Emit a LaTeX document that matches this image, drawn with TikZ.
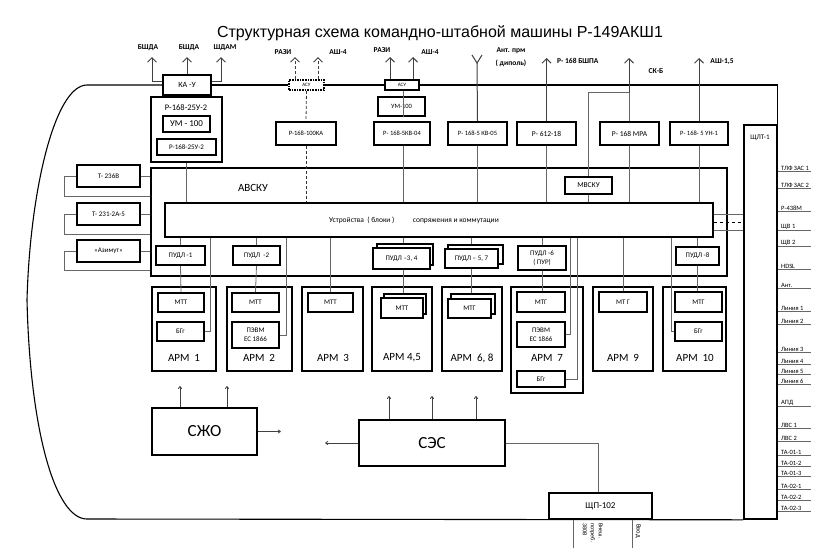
\documentclass[tikz,border=0pt]{standalone}
\usepackage{fontspec}
\setmainfont{Carlito}
\newfontfamily\arialf{Liberation Sans}
\usetikzlibrary{arrows.meta,calc}
\newcommand\fs[2]{\fontsize{#1}{#2}\selectfont}
\newcommand\bx[7][]{\node[box,minimum width={(#5-#3)*1pt},minimum height={(#6-#4)*1pt},#1] (#2) at ({(#3+#5)/2},{(#4+#6)/2}) {#7};}
\begin{document}
\begin{tikzpicture}[x=1pt,y=-1pt,
  box/.style={draw,line width=1.6pt,inner sep=0pt,align=center,font=\fs{7}{8}},
  wbox/.style={box,fill=white},
  conn/.style={draw=black!60,line width=0.8pt},
  frame/.style={draw=black,line width=1.1pt},
  ant/.style={draw=black!75,line width=1pt,-{Straight Barb[length=4.5pt,width=9pt]}},
  sarr/.style={draw=black!75,line width=0.8pt,-{To[length=3pt,width=4pt]}},
  lbl/.style={font=\bfseries\fs{7.5}{8},inner sep=0pt},
  rl/.style={font=\fs{6.5}{7},inner sep=1pt,anchor=west},
  ul/.style={draw=black!60,line width=0.8pt}]
\useasboundingbox (0,0) rectangle (826,558);

% title
\node[font=\arialf\fs{16}{18}] (title) at (440,33) {Структурная схема командно-штабной машины Р-149АКШ1};

% ---------- top equipment ----------
\bx[wbox,font=\fs{8}{9}]{kau}{163}{75}{211}{95}{КА -У}
\bx{r25o}{151}{97}{222}{162}{}
\node[font=\fs{8.5}{9}] (r25t) at (186,108) {Р-168-25У-2};
\bx[font=\fs{9}{10}]{um1}{163}{116}{210}{132}{УМ - 100}
\bx{r25i}{157}{139}{216}{155}{Р-168-25У-2}

\bx[wbox,densely dotted,font=\fs{5}{6}]{asu1}{289}{80}{324}{90}{АСУ}
\bx[font=\fs{6.5}{7}]{r100}{276}{122}{336}{145}{Р-168-100КА}

\bx[wbox,font=\fs{5}{6}]{asu2}{385}{80}{419}{90}{АСУ}
\bx[font=\fs{6.5}{7}]{um2}{378}{97}{425}{116}{УМ-100}
\bx[font=\fs{6.5}{7}]{r04}{374}{122}{430}{145}{Р- 168-5КВ-04}
\bx[font=\fs{6.5}{7}]{r05}{448}{122}{507}{145}{Р- 168-5 КВ-05}
\bx[font=\fs{7.5}{8}]{r612}{517}{122}{576}{145}{Р- 612-18}
\bx[font=\fs{7.5}{8}]{mra}{600}{122}{659}{145}{Р- 168 МРА}
\bx[font=\fs{6.5}{7}]{un1}{670}{122}{728}{145}{Р- 168- 5 УН-1}

\bx[font=\fs{7}{8}]{shlt}{744}{125}{777}{519}{}
\node[font=\fs{7}{8}] (shltt) at (760,138) {ЩЛТ-1};

% frame
\draw[frame] (kau.west) -- (87,85) .. controls (55,85) and (30,190) .. (27,300) .. controls (30,430) and (55,519) .. (87,519) -- (shlt.south west);
\draw[frame] (kau.east) -- (asu1.west);
\draw[frame] (asu1.east) -- (asu2.west);
\draw[frame] (asu2.east) -- (shlt.north east |- asu2.east) -- (shlt.north east);

% antennas
\coordinate (tA) at (152,57);
\coordinate (tC) at (221,57);
\draw[ant] (kau.north) -- (kau.north |- tA);
\draw[ant] (kau.west |- 0,81) -| (tA);
\draw[ant] (kau.east |- 0,81) -| (tC);
\node[lbl] (l1) at (148,48) {БШДА};
\node[lbl] (l2) at (189,48) {БШДА};
\node[lbl] (l3) at (225,48) {ШДАМ};

\draw[ant,densely dashed] (asu1.north -| 295,0) -- (295,57);
\draw[ant,densely dashed] (asu1.north -| 318,0) -- (318,57);
\node[lbl] (l4) at (283,52) {РАЗИ};
\node[lbl] (l5) at (338,52) {АШ-4};

\draw[ant] (asu2.north -| 390,0) -- (390,57);
\draw[ant] (asu2.north -| 413,0) -- (413,57);
\node[lbl] (l6) at (382,50) {РАЗИ};
\node[lbl] (l7) at (430,52) {АШ-4};

\coordinate (dip) at (477,63);
\draw[conn,black!75,line width=1pt] (r05.north) -- (dip);
\draw[black!75,line width=1pt] (472,55) -- (dip) -- (482,55);
\node[lbl] (l8) at (511,51) {Ант. прм};
\node[lbl] (l9) at (511,63) {( диполь)};

\draw[ant] (r612.north) -- (r612.north |- 0,58);
\node[lbl,anchor=west] (l10) at (557,61) {Р- 168  БШПА};
\draw[ant] (mra.north -| 629,0) -- (629,58);
\node[lbl] (l11) at (656,71) {СК-Б};
\draw[ant] (un1.north) -- (un1.north |- 0,58);
\node[lbl] (l12) at (722,62) {АШ-1,5};

% ---------- AVSKU ----------
\bx{avsku}{151}{168}{727}{276}{}
\node[font=\fs{11}{12}] (avskut) at (253,188) {АВСКУ};
\bx[wbox,font=\fs{7.5}{8}]{mvsku}{565}{177}{612}{194}{МВСКУ}
\bx[wbox]{bar}{165}{203}{713}{237}{}
\node[font=\fs{7.5}{8}] (bart) at (414,220) {Устройства\ \ ( блоки )\qquad\ \ сопряжения и коммутации};

\bx[font=\fs{7}{8}]{t236}{77}{165}{140}{187}{Т- 236В}
\bx[font=\fs{7}{8}]{t231}{77}{203}{140}{225}{Т- 231-2А-5}
\bx[font=\fs{7}{8}]{azm}{77}{240}{140}{262}{«Азимут»}

\bx[wbox]{p1}{156}{246}{205}{265}{ПУДЛ -1}
\bx[wbox]{p2}{233}{246}{280}{265}{ПУДЛ\ \ -2}
\bx[wbox]{p34b}{377}{244}{433}{265}{}
\bx[wbox]{p34}{373}{248}{430}{269}{ПУДЛ –3, 4}
\bx[wbox]{p57b}{448}{245}{503}{264}{}
\bx[wbox]{p57}{445}{249}{498}{268}{ПУДЛ – 5, 7}
\bx[wbox,font=\fs{7}{9}]{p6}{518}{246}{566}{270}{ПУДЛ -6\\( ПУР)}
\bx[wbox]{p8}{676}{247}{719}{265}{ПУДЛ -8}

% ---------- ARM ----------
\bx{arm1}{152}{287}{216}{371}{}
\bx{arm2}{227}{287}{292}{371}{}
\bx{arm3}{302}{287}{363}{371}{}
\bx{arm45}{372}{287}{432}{371}{}
\bx{arm68}{442}{287}{502}{371}{}
\bx{arm7}{511}{287}{583}{393}{}
\bx{arm9}{593}{287}{653}{371}{}
\bx{arm10}{663}{287}{726}{371}{}
\node[font=\fs{11}{12}] (a1t) at (184,358) {АРМ\ \ 1};
\node[font=\fs{11}{12}] (a2t) at (259,358) {АРМ\ \ 2};
\node[font=\fs{11}{12}] (a3t) at (333,358) {АРМ\ \ 3};
\node[font=\fs{11}{12}] (a45t) at (402,358) {АРМ 4,5};
\node[font=\fs{11}{12}] (a68t) at (472,358) {АРМ\ \ 6, 8};
\node[font=\fs{11}{12}] (a7t) at (547,358) {АРМ\ \ 7};
\node[font=\fs{11}{12}] (a9t) at (623,358) {АРМ\ \ 9};
\node[font=\fs{11}{12}] (a10t) at (695,358) {АРМ\ \ 10};

\bx[wbox]{mtt1}{158}{293}{204}{312}{МТТ}
\bx[wbox]{bg1}{157}{322}{204}{341}{БГг}
\bx[wbox]{mtt2}{232}{293}{279}{312}{МТТ}
\bx[wbox,font=\fs{7}{9}]{pevm2}{232}{322}{279}{348}{ПЭВМ\\ЕС 1866}
\bx[wbox]{mtt3}{308}{293}{353}{312}{МТТ}
\bx[wbox]{mtt45b}{384}{294}{426}{314}{}
\bx[wbox]{mtt45}{381}{298}{423}{318}{МТТ}
\bx[wbox]{mtg68b}{451}{294}{495}{314}{}
\bx[wbox]{mtg68}{448}{299}{491}{318}{МТГ}
\bx[wbox]{mtg7}{517}{292}{565}{312}{МТГ}
\bx[wbox,font=\fs{7}{9}]{pevm7}{517}{322}{565}{347}{ПЭВМ\\ЕС 1866}
\bx[wbox]{bg7}{517}{371}{565}{387}{БГг}
\bx[wbox]{mtg9}{599}{292}{647}{312}{МТ Г}
\bx[wbox]{mtg10}{675}{292}{722}{312}{МТГ}
\bx[wbox]{bg10}{675}{322}{722}{341}{БГг}

% ---------- connectors ----------
\draw[conn] (r25o.south) -- (bar.north -| r25o.south);
\draw[conn,densely dashed,black!80] (asu1.south) -- (r100.north);
\draw[conn,densely dashed,black!80] (r100.south) -- (bar.north -| r100.south);
\draw[conn] (asu2.south -| 403,0) -- (um2.south -| 403,0);
\draw[conn] (r04.south -| 403,0) -- (bar.north -| 403,0);
\draw[conn] (r05.south) -- (bar.north -| r05.south);
\draw[conn] (r612.south) -- (bar.north -| r612.south);
\draw[conn] (mra.south -| 629,0) -- (bar.north -| 629,0);
\draw[conn] (un1.south) -- (bar.north -| un1.south);
\draw[conn] (mra.north -| 629,0) -- (629,92) -- (588,92) -- (mvsku.north -| 588,0);
\draw[conn] (mvsku.south -| 588,0) -- (bar.north -| 588,0);

\draw[conn] (t236.east) -- (avsku.west |- t236.east);
\draw[conn] (t231.east) -- (avsku.west |- t231.east);
\draw[conn] (azm.east) -- (avsku.west |- azm.east);
\draw[conn] (t236.west) -- (64,0 |- t236.west) -- (64,196) -- (avsku.west |- 0,196);
\draw[conn] (t231.west) -- (64,0 |- t231.west) -- (64,234) -- (avsku.west |- 0,234);
\draw[conn] (azm.west) -- (64,0 |- azm.west) -- (64,270) -- (avsku.west |- 0,270);

\draw[conn] (bar.south -| p1.north) -- (p1.north);
\draw[conn] (p1.south) -- (mtt1.north);
\draw[conn] (bar.south -| 210,0) |- (bg1.east);
\draw[conn] (bar.south -| p2.north) -- (p2.north);
\draw[conn] (p2.south) -- (mtt2.north);
\draw[conn] (bar.south -| 286,0) |- (pevm2.east);
\draw[conn] (bar.south -| mtt3.north) -- (mtt3.north);
\draw[conn] (bar.south -| 403,0) -- (p34b.north -| 403,0);
\draw[conn] (p34.south -| 403,0) -- (mtt45b.north -| 403,0);
\draw[conn] (bar.south -| 471,0) -- (p57b.north -| 471,0);
\draw[conn] (p57.south -| 471,0) -- (mtg68b.north -| 471,0);
\draw[conn] (bar.south -| p6.north) -- (p6.north);
\draw[conn] (p6.south) -- (mtg7.north -| p6.south);
\draw[conn] (bar.south -| 570,0) |- (pevm7.east);
\draw[conn] (bar.south -| 577,0) |- (bg7.east);
\draw[conn] (bar.south -| mtg9.north) -- (mtg9.north);
\draw[conn] (bar.south -| p8.north) -- (p8.north);
\draw[conn] (p8.south) -- (mtg10.north -| p8.south);
\draw[conn] (bar.south -| 671,0) |- (bg10.west);

\draw[conn] (bar.east |- 0,214) -- (shlt.west |- 0,214);
\draw[conn,dashed,black] (bar.east |- 0,222) -- (shlt.west |- 0,222);
\draw[conn] (bar.east |- 0,230) -- (shlt.west |- 0,230);

% ---------- power ----------
\bx[font=\fs{17}{18}]{szho}{152}{408}{257}{455}{СЖО}
\bx[font=\fs{17}{18}]{ses}{359}{420}{505}{466}{СЭС}
\bx[wbox,font=\fs{9}{10}]{shp}{549}{493}{652}{519}{ЩП-102}
\draw[sarr] (szho.north -| 180,0) -- (180,386);
\draw[sarr] (szho.north -| 227,0) -- (227,386);
\draw[sarr] (szho.east) -- ++(23,0);
\draw[sarr] (ses.west) -- ++(-33,0);
\draw[sarr] (ses.north -| 389,0) -- (389,396);
\draw[sarr] (ses.north -| 432,0) -- (432,396);
\draw[sarr] (ses.north -| 476,0) -- (476,396);
\draw[conn] (ses.east) -| (shp.north -| 598,0);
\draw[conn] (shp.south -| 573,0) -- (573,548);
\draw[conn] (shp.south -| 632,0) -- (632,548);
\node[rotate=-90,anchor=north west,align=left,inner sep=0pt,font=\fs{6}{8}] (vn) at (603,523) {Внеш.\\потреб.\\380В};
\node[rotate=-90,anchor=north west,inner sep=0pt,font=\fs{6.5}{8}] (vv) at (641,524) {Ввод};

% ---------- right labels ----------
\foreach \t/\y [count=\i] in {ТЛФ ЗАС 1/168,ТЛФ ЗАС 2/185,Р-438М/208,ЩВ 1/227,ЩВ 2/243,HDSL/266,Ант./285,Линия 1/308,Линия 2/321,Линия 3/349,Линия 4/361,Линия 5/371,Линия 6/381,АПД/403,ЛВС 1/425,ЛВС 2/438,ТА-01-1/452,ТА-01-2/463,ТА-01-3/473,ТА-02-1/486,ТА-02-2/497,ТА-02-3/508}{
  \node[rl] (rl\i) at (780,\y) {\t};
  \draw[ul] (shlt.east |- rl\i.south) -- ++(33,0);
}
\end{tikzpicture}
\end{document}
